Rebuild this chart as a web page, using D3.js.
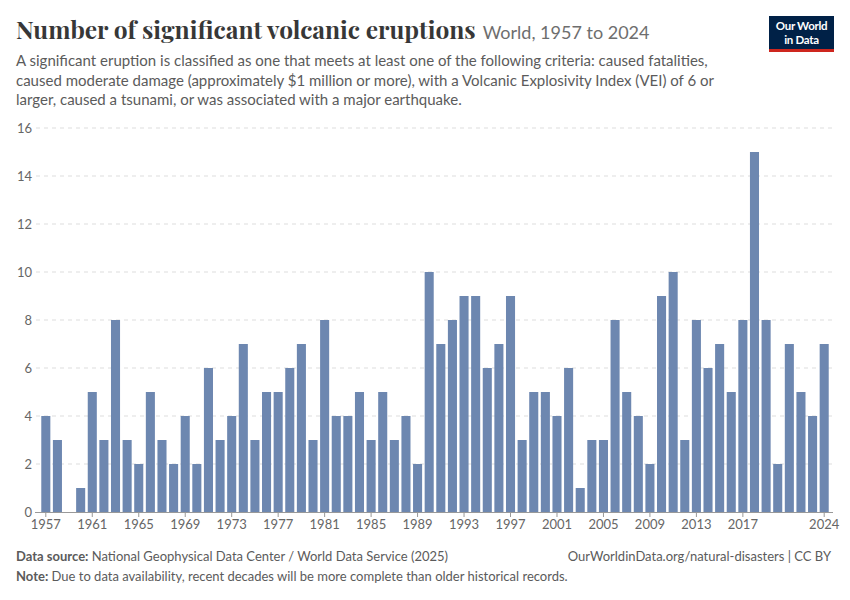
<!DOCTYPE html>
<html>
<head>
<meta charset="utf-8">
<script src="https://cdn.jsdelivr.net/npm/d3@7/dist/d3.min.js"></script>
<style>
  html, body { margin: 0; padding: 0; background: #fff; }
  svg { display: block; font-family: Lato, "Noto Sans", sans-serif; }
</style>
</head>
<body>
<svg id="chart" width="850" height="600"></svg>
<script>
// ---- Data ----
const years = d3.range(1957, 2025);
const eruptions = [
  4, 3, 0, 1, 5, 3, 8, 3, 2, 5,   // 1957-1966
  3, 2, 4, 2, 6, 3, 4, 7, 3, 5,   // 1967-1976
  5, 6, 7, 3, 8, 4, 4, 5, 3, 5,   // 1977-1986
  3, 4, 2, 10, 7, 8, 9, 9, 6, 7,  // 1987-1996
  9, 3, 5, 5, 4, 6, 1, 3, 3, 8,   // 1997-2006
  5, 4, 2, 9, 10, 3, 8, 6, 7, 5,  // 2007-2016
  8, 15, 8, 2, 7, 5, 4, 7         // 2017-2024
];
const xTickYears = [1957, 1961, 1965, 1969, 1973, 1977, 1981, 1985, 1989, 1993, 1997, 2001, 2005, 2009, 2013, 2017, 2024];
const yTicks = [0, 2, 4, 6, 8, 10, 12, 14, 16];

const titleText = "Number of significant volcanic eruptions";
const subtitleText = "World, 1957 to 2024";
const descLines = [
  "A significant eruption is classified as one that meets at least one of the following criteria: caused fatalities,",
  "caused moderate damage (approximately $1 million or more), with a Volcanic Explosivity Index (VEI) of 6 or",
  "larger, caused a tsunami, or was associated with a major earthquake."
];

const svg = d3.select("#chart");

// ---- Header ----
const title = svg.append("text")
  .attr("x", 16).attr("y", 39)
  .style("font-family", "'Playfair Display', 'Liberation Serif', 'DejaVu Serif', serif")
  .attr("font-weight", 700)
  .attr("font-size", 26)
  .attr("fill", "#373737")
  .text(titleText);
const natW = title.node().getComputedTextLength();
const tSize = Math.min(27, 26 * 460 / natW);
title.attr("font-size", tSize);
const titleEnd = 16 + title.node().getComputedTextLength();

const sub = svg.append("text")
  .attr("x", titleEnd + 7).attr("y", 39)
  .attr("font-size", 18)
  .attr("fill", "#6e6e6e")
  .text(subtitleText);

svg.append("g").selectAll("text").data(descLines).join("text")
  .attr("x", 16)
  .attr("y", (d, i) => 66 + i * 19.5)
  .attr("font-size", 15)
  .attr("fill", "#5b5b5b")
  .text(d => d);

// ---- Logo ----
const logo = svg.append("g");
logo.append("rect").attr("x", 769).attr("y", 16).attr("width", 65).attr("height", 36).attr("fill", "#002147");
logo.append("rect").attr("x", 769).attr("y", 49).attr("width", 65).attr("height", 3).attr("fill", "#ce261e");
logo.append("text").attr("x", 801.5).attr("y", 30).attr("text-anchor", "middle")
  .attr("font-size", 11.5).attr("font-weight", 700).attr("fill", "#fff").attr("letter-spacing", -0.3).text("Our World");
logo.append("text").attr("x", 801.5).attr("y", 43.5).attr("text-anchor", "middle")
  .attr("font-size", 11.5).attr("font-weight", 700).attr("fill", "#fff").attr("letter-spacing", -0.3).text("in Data");

// ---- Scales ----
const x = d3.scaleBand()
  .domain(years)
  .range([40, 830])
  .paddingInner(0.22)
  .paddingOuter(0.11);

const y = d3.scaleLinear()
  .domain([0, 16])
  .range([512, 128]);

// ---- Gridlines & y labels ----
svg.append("g").selectAll("line").data(yTicks.filter(d => d > 0)).join("line")
  .attr("x1", 36).attr("x2", 833)
  .attr("y1", d => y(d)).attr("y2", d => y(d))
  .attr("stroke", "#dddddd")
  .attr("stroke-dasharray", "4,4");

svg.append("g").selectAll("text").data(yTicks).join("text")
  .attr("x", 32)
  .attr("y", d => y(d) + 4.5)
  .attr("text-anchor", "end")
  .attr("font-size", 13)
  .attr("fill", "#666")
  .text(d => d);

// ---- Bars ----
svg.append("g").selectAll("rect").data(years.map((yr, i) => ({ yr, v: eruptions[i] }))).join("rect")
  .attr("x", d => x(d.yr))
  .attr("width", x.bandwidth())
  .attr("y", d => y(d.v))
  .attr("height", d => y(0) - y(d.v))
  .attr("fill", "#6d87b0");

// ---- X axis ----
const xAxis = d3.axisBottom(x)
  .tickValues(xTickYears)
  .tickSize(5)
  .tickSizeOuter(0)
  .tickPadding(3);

const xg = svg.append("g")
  .attr("transform", "translate(0,512)")
  .call(xAxis);
xg.select(".domain").attr("stroke", "#999").attr("d", "M35,0.5H833");
xg.selectAll(".tick line").attr("stroke", "#999");
xg.selectAll(".tick text")
  .attr("font-family", "Lato, sans-serif")
  .attr("font-size", 13)
  .attr("fill", "#666");

// ---- Footer ----
const src = svg.append("text").attr("x", 16).attr("y", 561).attr("font-size", 13).attr("fill", "#5b5b5b");
src.append("tspan").attr("font-weight", 700).text("Data source:");
src.append("tspan").text(" National Geophysical Data Center / World Data Service (2025)");

const note = svg.append("text").attr("x", 16).attr("y", 581).attr("font-size", 13).attr("fill", "#5b5b5b");
note.append("tspan").attr("font-weight", 700).text("Note:");
note.append("tspan").text(" Due to data availability, recent decades will be more complete than older historical records.");

svg.append("text").attr("x", 831).attr("y", 561).attr("text-anchor", "end")
  .attr("font-size", 13).attr("fill", "#5b5b5b")
  .text("OurWorldinData.org/natural-disasters | CC BY");
</script>
</body>
</html>
